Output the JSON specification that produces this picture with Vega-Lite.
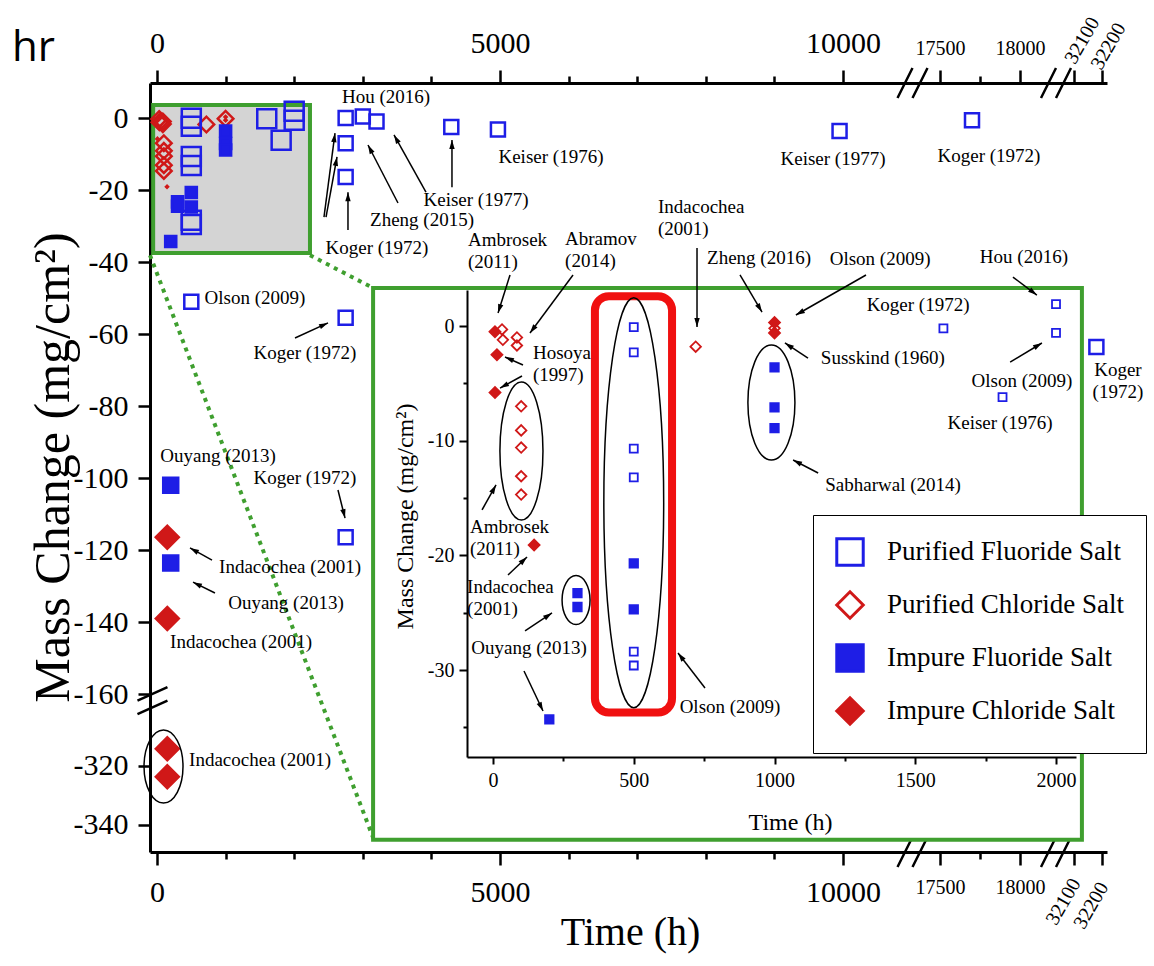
{
  "$schema": "https://vega.github.io/schema/vega-lite/v6.json",
  "width": 957,
  "height": 769,
  "autosize": "none",
  "padding": {"left": 150, "top": 83, "right": 47, "bottom": 114},
  "background": "white",
  "title": {"text": "hr", "anchor": "start", "frame": "group", "orient": "top", "font": "Open Sans", "fontSize": 42, "fontWeight": "normal", "color": "black", "dx": -138, "dy": 55, "offset": -34, "baseline": "alphabetic"},
  "config": {
    "view": {"stroke": null},
    "axis": {"grid": false, "labelFont": "Liberation Serif", "titleFont": "Liberation Serif", "labelColor": "black", "titleColor": "black", "titleFontWeight": "normal", "domainColor": "black", "tickColor": "black", "labelOverlap": false, "labelFlush": false, "labelBound": false},
    "text": {"font": "Liberation Serif", "color": "black"},
    "legend": {"orient": "none", "legendX": 663, "legendY": 432, "fillColor": "white", "strokeColor": "black", "padding": 22, "symbolSize": 700, "symbolStrokeWidth": 3, "symbolOpacity": 1, "labelFont": "Liberation Serif", "labelFontSize": 27, "labelColor": "black", "labelLimit": 500, "rowPadding": 13, "labelOffset": 22}
  },
  "datasets": {
    "mainPts": [
      {"type": "Purified Fluoride Salt", "x": 2750, "y": 0},
      {"type": "Purified Fluoride Salt", "x": 3000, "y": 0.4},
      {"type": "Purified Fluoride Salt", "x": 3200, "y": -1},
      {"type": "Purified Fluoride Salt", "x": 2750, "y": -7},
      {"type": "Purified Fluoride Salt", "x": 2750, "y": -16.4},
      {"type": "Purified Fluoride Salt", "x": 4290, "y": -2.5},
      {"type": "Purified Fluoride Salt", "x": 4970, "y": -3.2},
      {"type": "Purified Fluoride Salt", "x": 9950, "y": -3.6},
      {"type": "Purified Fluoride Salt", "x": 17700, "y": -0.6},
      {"type": "Purified Fluoride Salt", "x": 500, "y": -51},
      {"type": "Purified Fluoride Salt", "x": 2750, "y": -55.5},
      {"type": "Purified Fluoride Salt", "x": 2750, "y": -116.4},
      {"type": "Purified Fluoride Salt", "x": 32180, "y": -63.6},
      {"type": "Impure Fluoride Salt", "x": 200, "y": -102},
      {"type": "Impure Fluoride Salt", "x": 200, "y": -123.6},
      {"type": "Impure Chloride Salt", "x": 150, "y": -116.4},
      {"type": "Impure Chloride Salt", "x": 150, "y": -139},
      {"type": "Impure Chloride Salt", "x": 150, "y": -314.2},
      {"type": "Impure Chloride Salt", "x": 150, "y": -323.7}
    ],
    "insetPts": [
      {"type": "Purified Chloride Salt", "x": 32, "y": -0.3},
      {"type": "Purified Chloride Salt", "x": 35, "y": -1.2},
      {"type": "Purified Chloride Salt", "x": 85, "y": -1.0},
      {"type": "Purified Chloride Salt", "x": 85, "y": -1.7},
      {"type": "Purified Chloride Salt", "x": 100, "y": -7.0},
      {"type": "Purified Chloride Salt", "x": 100, "y": -9.1},
      {"type": "Purified Chloride Salt", "x": 100, "y": -10.6},
      {"type": "Purified Chloride Salt", "x": 100, "y": -13.1},
      {"type": "Purified Chloride Salt", "x": 100, "y": -14.7},
      {"type": "Purified Chloride Salt", "x": 720, "y": -1.8},
      {"type": "Purified Chloride Salt", "x": 1000, "y": -0.2},
      {"type": "Impure Chloride Salt", "x": 7, "y": -0.5},
      {"type": "Impure Chloride Salt", "x": 14, "y": -2.5},
      {"type": "Impure Chloride Salt", "x": 7, "y": -5.8},
      {"type": "Impure Chloride Salt", "x": 146, "y": -19.1},
      {"type": "Impure Chloride Salt", "x": 1000, "y": 0.3},
      {"type": "Impure Chloride Salt", "x": 1000, "y": -0.6},
      {"type": "Impure Fluoride Salt", "x": 300, "y": -23.3},
      {"type": "Impure Fluoride Salt", "x": 300, "y": -24.5},
      {"type": "Impure Fluoride Salt", "x": 200, "y": -34.3},
      {"type": "Impure Fluoride Salt", "x": 500, "y": -20.7},
      {"type": "Impure Fluoride Salt", "x": 500, "y": -24.7},
      {"type": "Impure Fluoride Salt", "x": 1000, "y": -3.6},
      {"type": "Impure Fluoride Salt", "x": 1000, "y": -7.1},
      {"type": "Impure Fluoride Salt", "x": 1000, "y": -8.9},
      {"type": "Purified Fluoride Salt", "x": 500, "y": -0.1},
      {"type": "Purified Fluoride Salt", "x": 500, "y": -2.3},
      {"type": "Purified Fluoride Salt", "x": 500, "y": -10.7},
      {"type": "Purified Fluoride Salt", "x": 500, "y": -13.2},
      {"type": "Purified Fluoride Salt", "x": 500, "y": -28.4},
      {"type": "Purified Fluoride Salt", "x": 500, "y": -29.6},
      {"type": "Purified Fluoride Salt", "x": 1600, "y": -0.2},
      {"type": "Purified Fluoride Salt", "x": 2000, "y": 1.9},
      {"type": "Purified Fluoride Salt", "x": 2000, "y": -0.6},
      {"type": "Purified Fluoride Salt", "x": 1810, "y": -6.2}
    ],
    "mainLabels": [
      {"t": "Hou (2016)", "x": 3338, "y": 5.8},
      {"t": "Keiser (1976)", "x": 5743, "y": -10.8},
      {"t": "Keiser (1977)", "x": 4650, "y": -22.8},
      {"t": "Zheng (2015)", "x": 3863, "y": -28.3},
      {"t": "Koger (1972)", "x": 3207, "y": -36.1},
      {"t": "Keiser (1977)", "x": 9854, "y": -11.4},
      {"t": "Koger (1972)", "x": 17806, "y": -10.6},
      {"t": "Olson (2009)", "x": 1428, "y": -50},
      {"t": "Koger (1972)", "x": 2157, "y": -65.3},
      {"t": "Ouyang (2013)", "x": 890, "y": -93.9},
      {"t": "Koger (1972)", "x": 2157, "y": -100},
      {"t": "Indacochea (2001)", "x": 1939, "y": -124.7},
      {"t": "Ouyang (2013)", "x": 1880, "y": -134.7},
      {"t": "Indacochea (2001)", "x": 1225, "y": -145.6},
      {"t": "Indacochea (2001)", "x": 1502, "y": -318}
    ],
    "mainArrows": [
      {"x": 2434, "y": -27.5, "x2": 2595, "y2": -4.2, "a": 7.5},
      {"x": 2464, "y": -27.5, "x2": 2624, "y2": -10.8, "a": 10.4},
      {"x": 2784, "y": -31.1, "x2": 2784, "y2": -20.6, "a": 0},
      {"x": 3513, "y": -23.6, "x2": 3076, "y2": -7.5, "a": -27.3},
      {"x": 3921, "y": -20.6, "x2": 3455, "y2": -4.7, "a": -29.3},
      {"x": 4300, "y": -19.2, "x2": 4300, "y2": -6.1, "a": 0},
      {"x": 2012, "y": -61.1, "x2": 2493, "y2": -56.9, "a": 65.6},
      {"x": 2638, "y": -103.3, "x2": 2741, "y2": -111.1, "a": 166},
      {"x": 802, "y": -122.8, "x2": 481, "y2": -119.4, "a": -61.4},
      {"x": 845, "y": -131.9, "x2": 525, "y2": -128.9, "a": -63.4}
    ],
    "insetLabels": [
      {"t": "Zheng (2016)", "x": 945, "y": 5.9},
      {"t": "Olson (2009)", "x": 1375, "y": 5.8},
      {"t": "Hou (2016)", "x": 1886, "y": 6.0},
      {"t": "Koger (1972)", "x": 1510, "y": 1.8},
      {"t": "Susskind (1960)", "x": 1385, "y": -2.8},
      {"t": "Olson (2009)", "x": 1879, "y": -4.8},
      {"t": "Keiser (1976)", "x": 1801, "y": -8.5},
      {"t": "Sabharwal (2014)", "x": 1421, "y": -13.9},
      {"t": "Ouyang (2013)", "x": 128, "y": -28.1},
      {"t": "Olson (2009)", "x": 842, "y": -33.2}
    ],
    "insetLabels2": [
      {"t": "Ambrosek\n(2011)", "x": -89, "y": 8.28},
      {"t": "Abramov\n(2014)", "x": 256, "y": 8.37},
      {"t": "Indacochea\n(2001)", "x": 586, "y": 11.16},
      {"t": "Hosoya\n(1997)", "x": 142, "y": -1.57},
      {"t": "Ambrosek\n(2011)", "x": -82, "y": -16.74},
      {"t": "Indacochea\n(2001)", "x": -92, "y": -21.97}
    ],
    "insetArrows": [
      {"x": 60.4, "y": 4.45, "x2": 17.8, "y2": 1.13, "a": -162.5},
      {"x": 284.2, "y": 4.45, "x2": 131.4, "y2": -0.61, "a": -143.4},
      {"x": 724.7, "y": 6.8, "x2": 724.7, "y2": -0.09, "a": 180},
      {"x": 877.4, "y": 4.45, "x2": 955.6, "y2": 1.22, "a": 149.3},
      {"x": 1325, "y": 4.45, "x2": 1076, "y2": 0.96, "a": -119.7},
      {"x": 1847, "y": 4.27, "x2": 1932, "y2": 2.7, "a": 126.9},
      {"x": 1119, "y": -2.79, "x2": 1037, "y2": -1.48, "a": -56.9},
      {"x": 1837, "y": -3.14, "x2": 1950, "y2": -1.48, "a": 59.3},
      {"x": 1155, "y": -12.82, "x2": 1066, "y2": -11.68, "a": -62.5},
      {"x": 106.6, "y": -3.4, "x2": 42.6, "y2": -2.7, "a": -66},
      {"x": 103, "y": -4.36, "x2": 24.9, "y2": -5.41, "a": -118.6},
      {"x": -39, "y": -16.04, "x2": 10.7, "y2": -13.86, "a": 29.2},
      {"x": 53.3, "y": -21.71, "x2": 120.8, "y2": -20.14, "a": 46.5},
      {"x": 113.7, "y": -26.59, "x2": 209.6, "y2": -25.02, "a": 56.3},
      {"x": 110.1, "y": -30.08, "x2": 177.6, "y2": -33.57, "a": 154.6},
      {"x": 753.1, "y": -31.56, "x2": 657.2, "y2": -28.51, "a": -37.6}
    ]
  },
  "layer": [
    {
      "layer": [
        {
          "layer": [
            {
              "data": {"values": [{"x": -56, "x2": 2230, "y": 3.6, "y2": -37.5}]},
              "mark": {"type": "rect", "fill": "#d4d4d4", "stroke": "#3f9f2f", "strokeWidth": 4},
              "encoding": {
                "x": {"field": "x", "type": "quantitative",
                  "scale": {"domain": [-102, 10904, 17375, 18187.5, 32057, 32218], "range": [0, 755, 770, 900, 912, 957], "nice": false, "zero": false},
                  "axis": {"orient": "top", "values": [0, 1000, 2000, 3000, 4000, 5000, 6000, 7000, 8000, 9000, 10000, 17500, 17750, 18000, 32100, 32200],
                    "labelExpr": "((datum.value % 5000 === 0 && datum.value <= 10000) || datum.value === 17500 || datum.value === 18000) ? '' + datum.value : ''",
                    "labelFontSize": {"condition": {"test": "datum.value > 11000", "value": 20}, "value": 30},
                    "tickSize": {"condition": {"test": "(datum.value % 5000 !== 0 && datum.value < 11000) || datum.value === 17750", "value": 7}, "value": 13},
                    "labelPadding": 12, "domainWidth": 3, "tickWidth": 2.5, "title": null}},
                "x2": {"field": "x2"},
                "y": {"field": "y", "type": "quantitative",
                  "scale": {"domain": [-349.2, -300, -161.9, 9.72], "range": [769, 624, 618, 0], "nice": false, "zero": false}},
                "y2": {"field": "y2"}
              }
            }
          ]
        },
        {
          "layer": [
            {
              "data": {"values": [{"x": -102, "y": -38.1, "x2": 3163, "y2": -345.1}, {"x": 2230, "y": -38.1, "x2": 3149, "y2": -47.2}]},
              "mark": {"type": "rule", "stroke": "#3f9f2f", "strokeWidth": 4, "strokeDash": [4, 5]},
              "encoding": {
                "x": {"field": "x", "type": "quantitative"},
                "y": {"field": "y", "type": "quantitative"},
                "x2": {"field": "x2"}, "y2": {"field": "y2"}
              }
            },
            {
              "data": {"name": "mainPts"},
              "mark": {"type": "point", "filled": true, "opacity": 1, "strokeWidth": 2.5},
              "encoding": {
                "x": {"field": "x", "type": "quantitative",
                  "axis": {"orient": "bottom", "values": [0, 1000, 2000, 3000, 4000, 5000, 6000, 7000, 8000, 9000, 10000, 17500, 17750, 18000, 32100, 32200],
                    "labelExpr": "((datum.value % 5000 === 0 && datum.value <= 10000) || datum.value === 17500 || datum.value === 18000) ? '' + datum.value : ''",
                    "labelFontSize": {"condition": {"test": "datum.value > 11000", "value": 20}, "value": 30},
                    "tickSize": {"condition": {"test": "(datum.value % 5000 !== 0 && datum.value < 11000) || datum.value === 17750", "value": 7}, "value": 13},
                    "labelPadding": 12, "domainWidth": 3, "tickWidth": 2.5,
                    "title": "Time (h)", "titleFontSize": 40, "titleX": 480, "titleY": 80, "titleBaseline": "middle", "titleAlign": "center"}},
                "y": {"field": "y", "type": "quantitative",
                  "axis": {"orient": "left", "values": [0, -10, -20, -30, -40, -50, -60, -70, -80, -90, -100, -110, -120, -130, -140, -150, -160, -310, -320, -330, -340],
                    "labelExpr": "datum.value % 20 === 0 ? '' + datum.value : ''",
                    "tickSize": {"condition": {"test": "datum.value % 20 !== 0", "value": 6}, "value": 12},
                    "labelFontSize": 30, "labelPadding": 10, "domainWidth": 3, "tickWidth": 2.5,
                    "title": "Mass Change (mg/cm²)", "titleFontSize": 50, "titleX": -97, "titleY": 384, "titleAngle": 270, "titleBaseline": "middle", "titleAlign": "center"}},
                "shape": {"field": "type", "type": "nominal", "scale": {"domain": ["Purified Fluoride Salt", "Purified Chloride Salt", "Impure Fluoride Salt", "Impure Chloride Salt"], "range": ["square", "diamond", "square", "diamond"]}, "legend": {"title": null}},
                "stroke": {"field": "type", "type": "nominal", "scale": {"domain": ["Purified Fluoride Salt", "Purified Chloride Salt", "Impure Fluoride Salt", "Impure Chloride Salt"], "range": ["#1e1ee6", "#d01818", "#1e1ee6", "#d01818"]}, "legend": {"title": null}},
                "fill": {"field": "type", "type": "nominal", "scale": {"domain": ["Purified Fluoride Salt", "Purified Chloride Salt", "Impure Fluoride Salt", "Impure Chloride Salt"], "range": ["transparent", "transparent", "#1e1ee6", "#d01818"]}, "legend": {"title": null}},
                "size": {"field": "type", "type": "nominal", "scale": {"type": "ordinal", "domain": ["Purified Fluoride Salt", "Purified Chloride Salt", "Impure Fluoride Salt", "Impure Chloride Salt"], "range": [196, 300, 225, 529]}, "legend": null}
              }
            },
            {
              "data": {"name": "insetPts"},
              "mark": {"type": "point", "filled": true, "opacity": 1, "strokeWidth": 2.5},
              "encoding": {
                "x": {"field": "x", "type": "quantitative"},
                "y": {"field": "y", "type": "quantitative"},
                "shape": {"field": "type", "type": "nominal", "legend": null},
                "stroke": {"field": "type", "type": "nominal", "legend": null},
                "fill": {"field": "type", "type": "nominal", "legend": null},
                "size": {"field": "type", "type": "nominal", "legend": null}
              }
            },
            {
              "data": {"values": [{"x": 95, "y": -320.2}]},
              "mark": {"type": "point", "shape": "M0,-1C0.295,-1,0.534,-0.552,0.534,0C0.534,0.552,0.295,1,0,1C-0.295,1,-0.534,0.552,-0.534,0C-0.534,-0.552,-0.295,-1,0,-1Z", "size": 5329, "filled": false, "stroke": "black", "strokeWidth": 1.5, "opacity": 1},
              "encoding": {"x": {"field": "x", "type": "quantitative"}, "y": {"field": "y", "type": "quantitative"}}
            },
            {
              "data": {"name": "mainArrows"},
              "mark": {"type": "rule", "stroke": "black", "strokeWidth": 1.5},
              "encoding": {
                "x": {"field": "x", "type": "quantitative"},
                "y": {"field": "y", "type": "quantitative"},
                "x2": {"field": "x2"}, "y2": {"field": "y2"}
              }
            },
            {
              "data": {"name": "mainArrows"},
              "mark": {"type": "point", "shape": "M0,0L-0.6,2L0.6,2Z", "size": 81, "filled": true, "fill": "black", "strokeWidth": 0, "opacity": 1},
              "encoding": {
                "x": {"field": "x2", "type": "quantitative"},
                "y": {"field": "y2", "type": "quantitative"},
                "angle": {"field": "a", "type": "quantitative", "scale": null}
              }
            },
            {
              "data": {"name": "mainLabels"},
              "mark": {"type": "text", "font": "Liberation Serif", "fontSize": 19, "align": "center", "baseline": "middle"},
              "encoding": {
                "x": {"field": "x", "type": "quantitative"},
                "y": {"field": "y", "type": "quantitative"},
                "text": {"field": "t"}
              }
            },
            {
              "data": {"values": [{"t": "Koger\n(1972)", "x": 32257, "y": -67.5}]},
              "mark": {"type": "text", "font": "Liberation Serif", "fontSize": 19, "align": "center", "baseline": "top", "lineBreak": "\n", "lineHeight": 22},
              "encoding": {
                "x": {"field": "x", "type": "quantitative"},
                "y": {"field": "y", "type": "quantitative"},
                "text": {"field": "t"}
              }
            },
            {
              "data": {"values": [{"x": 14140, "y": 9.72}, {"x": 25122, "y": 9.72}, {"x": 14140, "y": -349.2}, {"x": 25122, "y": -349.2}]},
              "mark": {"type": "point", "shape": "M-1,1L0,-1M0,1L1,-1", "size": 900, "filled": false, "stroke": "black", "strokeWidth": 2.5, "opacity": 1},
              "encoding": {"x": {"field": "x", "type": "quantitative"}, "y": {"field": "y", "type": "quantitative"}}
            },
            {
              "data": {"values": [{"x": -66, "y": -161.8}]},
              "mark": {"type": "point", "shape": "M-1,0L1,-0.9M-1,0.9L1,0", "size": 900, "filled": false, "stroke": "black", "strokeWidth": 2.5, "opacity": 1},
              "encoding": {"x": {"field": "x", "type": "quantitative"}, "y": {"field": "y", "type": "quantitative"}}
            },
            {
              "data": {"values": [{"t": "32100", "x": 32085, "y": 15.5}, {"t": "32200", "x": 32179, "y": 13.9}]},
              "mark": {"type": "text", "font": "Liberation Serif", "fontSize": 20, "align": "left", "baseline": "middle", "angle": 300},
              "encoding": {
                "x": {"field": "x", "type": "quantitative"},
                "y": {"field": "y", "type": "quantitative"},
                "text": {"field": "t"}
              }
            },
            {
              "data": {"values": [{"t": "32100", "x": 32107, "y": -358.7}, {"t": "32200", "x": 32207, "y": -360}]},
              "mark": {"type": "text", "font": "Liberation Serif", "fontSize": 20, "align": "right", "baseline": "middle", "angle": 300},
              "encoding": {
                "x": {"field": "x", "type": "quantitative"},
                "y": {"field": "y", "type": "quantitative"},
                "text": {"field": "t"}
              }
            }
          ]
        }
      ]
    },
    {
      "layer": [
        {
          "data": {"values": [{"x": -426, "x2": 2092, "y": 3.31, "y2": -44.8}]},
          "mark": {"type": "rect", "fill": "white", "stroke": "#3f9f2f", "strokeWidth": 4},
          "encoding": {
            "x": {"field": "x", "type": "quantitative",
              "scale": {"domain": [-92.4, 2071], "range": [317, 926], "nice": false, "zero": false},
              "axis": {"orient": "bottom", "offset": -95, "zindex": 1, "values": [0, 250, 500, 750, 1000, 1250, 1500, 1750, 2000],
                "labelExpr": "datum.value % 500 === 0 ? '' + datum.value : ''",
                "tickSize": {"condition": {"test": "datum.value % 500 !== 0", "value": 4}, "value": 7},
                "labelFontSize": 20, "labelPadding": 6, "domainWidth": 2, "tickWidth": 2,
                "title": "Time (h)", "titleFontSize": 24, "titleX": 640, "titleY": 65, "titleBaseline": "middle", "titleAlign": "center"}},
            "x2": {"field": "x2"},
            "y": {"field": "y", "type": "quantitative",
              "scale": {"domain": [-37.58, 3.14], "range": [674, 207], "nice": false, "zero": false},
              "axis": {"orient": "left", "offset": -317, "zindex": 1, "values": [0, -5, -10, -15, -20, -25, -30, -35],
                "labelExpr": "datum.value % 10 === 0 ? '' + datum.value : ''",
                "tickSize": {"condition": {"test": "datum.value % 10 !== 0", "value": 4}, "value": 8},
                "labelFontSize": 20, "labelPadding": 5, "domainWidth": 2, "tickWidth": 2,
                "title": "Mass Change (mg/cm²)", "titleFontSize": 24, "titleX": -62, "titleY": 433, "titleAngle": 270, "titleBaseline": "middle", "titleAlign": "center"}},
            "y2": {"field": "y2"}
          }
        },
        {
          "data": {"name": "insetLabels"},
          "mark": {"type": "text", "font": "Liberation Serif", "fontSize": 19, "align": "center", "baseline": "middle"},
          "encoding": {
            "x": {"field": "x", "type": "quantitative"},
            "y": {"field": "y", "type": "quantitative"},
            "text": {"field": "t"}
          }
        },
        {
          "data": {"name": "insetLabels2"},
          "mark": {"type": "text", "font": "Liberation Serif", "fontSize": 19, "align": "left", "baseline": "top", "lineBreak": "\n", "lineHeight": 22},
          "encoding": {
            "x": {"field": "x", "type": "quantitative"},
            "y": {"field": "y", "type": "quantitative"},
            "text": {"field": "t"}
          }
        },
        {
          "data": {"values": [{"x": 362, "x2": 636, "y": 2.6, "y2": -33.7}]},
          "mark": {"type": "rect", "fill": "white", "stroke": "#f01010", "strokeWidth": 8, "cornerRadius": 14},
          "encoding": {
            "x": {"field": "x", "type": "quantitative"},
            "x2": {"field": "x2"},
            "y": {"field": "y", "type": "quantitative"},
            "y2": {"field": "y2"}
          }
        },
        {
          "data": {"values": [{"x": 101, "y": -10.9}]},
          "mark": {"type": "point", "shape": "M0,-1C0.172,-1,0.312,-0.552,0.312,0C0.312,0.552,0.172,1,0,1C-0.172,1,-0.312,0.552,-0.312,0C-0.312,-0.552,-0.172,-1,0,-1Z", "size": 19044, "filled": false, "stroke": "black", "strokeWidth": 1.5, "opacity": 1},
          "encoding": {"x": {"field": "x", "type": "quantitative"}, "y": {"field": "y", "type": "quantitative"}}
        },
        {
          "data": {"values": [{"x": 500, "y": -15.4}]},
          "mark": {"type": "point", "shape": "M0,-1C0.081,-1,0.146,-0.552,0.146,0C0.146,0.552,0.081,1,0,1C-0.081,1,-0.146,0.552,-0.146,0C-0.146,-0.552,-0.081,-1,0,-1Z", "size": 168100, "filled": false, "stroke": "black", "strokeWidth": 1.5, "opacity": 1},
          "encoding": {"x": {"field": "x", "type": "quantitative"}, "y": {"field": "y", "type": "quantitative"}}
        },
        {
          "data": {"values": [{"x": 295, "y": -23.9}]},
          "mark": {"type": "point", "shape": "M0,-1C0.315,-1,0.571,-0.552,0.571,0C0.571,0.552,0.315,1,0,1C-0.315,1,-0.571,0.552,-0.571,0C-0.571,-0.552,-0.315,-1,0,-1Z", "size": 2401, "filled": false, "stroke": "black", "strokeWidth": 1.5, "opacity": 1},
          "encoding": {"x": {"field": "x", "type": "quantitative"}, "y": {"field": "y", "type": "quantitative"}}
        },
        {
          "data": {"values": [{"x": 989, "y": -6.67}]},
          "mark": {"type": "point", "shape": "M0,-1C0.226,-1,0.409,-0.552,0.409,0C0.409,0.552,0.226,1,0,1C-0.226,1,-0.409,0.552,-0.409,0C-0.409,-0.552,-0.226,-1,0,-1Z", "size": 13225, "filled": false, "stroke": "black", "strokeWidth": 1.5, "opacity": 1},
          "encoding": {"x": {"field": "x", "type": "quantitative"}, "y": {"field": "y", "type": "quantitative"}}
        },
        {
          "data": {"name": "insetPts"},
          "mark": {"type": "point", "filled": true, "opacity": 1, "strokeWidth": 1.8},
          "encoding": {
            "x": {"field": "x", "type": "quantitative"},
            "y": {"field": "y", "type": "quantitative"},
            "shape": {"field": "type", "type": "nominal", "legend": null},
            "stroke": {"field": "type", "type": "nominal", "legend": null},
            "fill": {"field": "type", "type": "nominal", "legend": null},
            "size": {"field": "type", "type": "nominal", "scale": {"type": "ordinal", "domain": ["Purified Fluoride Salt", "Purified Chloride Salt", "Impure Fluoride Salt", "Impure Chloride Salt"], "range": [64, 110, 72, 121]}, "legend": null}
          }
        },
        {
          "data": {"name": "insetArrows"},
          "mark": {"type": "rule", "stroke": "black", "strokeWidth": 1.5},
          "encoding": {
            "x": {"field": "x", "type": "quantitative"},
            "y": {"field": "y", "type": "quantitative"},
            "x2": {"field": "x2"}, "y2": {"field": "y2"}
          }
        },
        {
          "data": {"name": "insetArrows"},
          "mark": {"type": "point", "shape": "M0,0L-0.6,2L0.6,2Z", "size": 81, "filled": true, "fill": "black", "strokeWidth": 0, "opacity": 1},
          "encoding": {
            "x": {"field": "x2", "type": "quantitative"},
            "y": {"field": "y2", "type": "quantitative"},
            "angle": {"field": "a", "type": "quantitative", "scale": null}
          }
        }
      ]
    }
  ],
  "resolve": {"scale": {"x": "independent", "y": "independent", "size": "independent"}}
}
